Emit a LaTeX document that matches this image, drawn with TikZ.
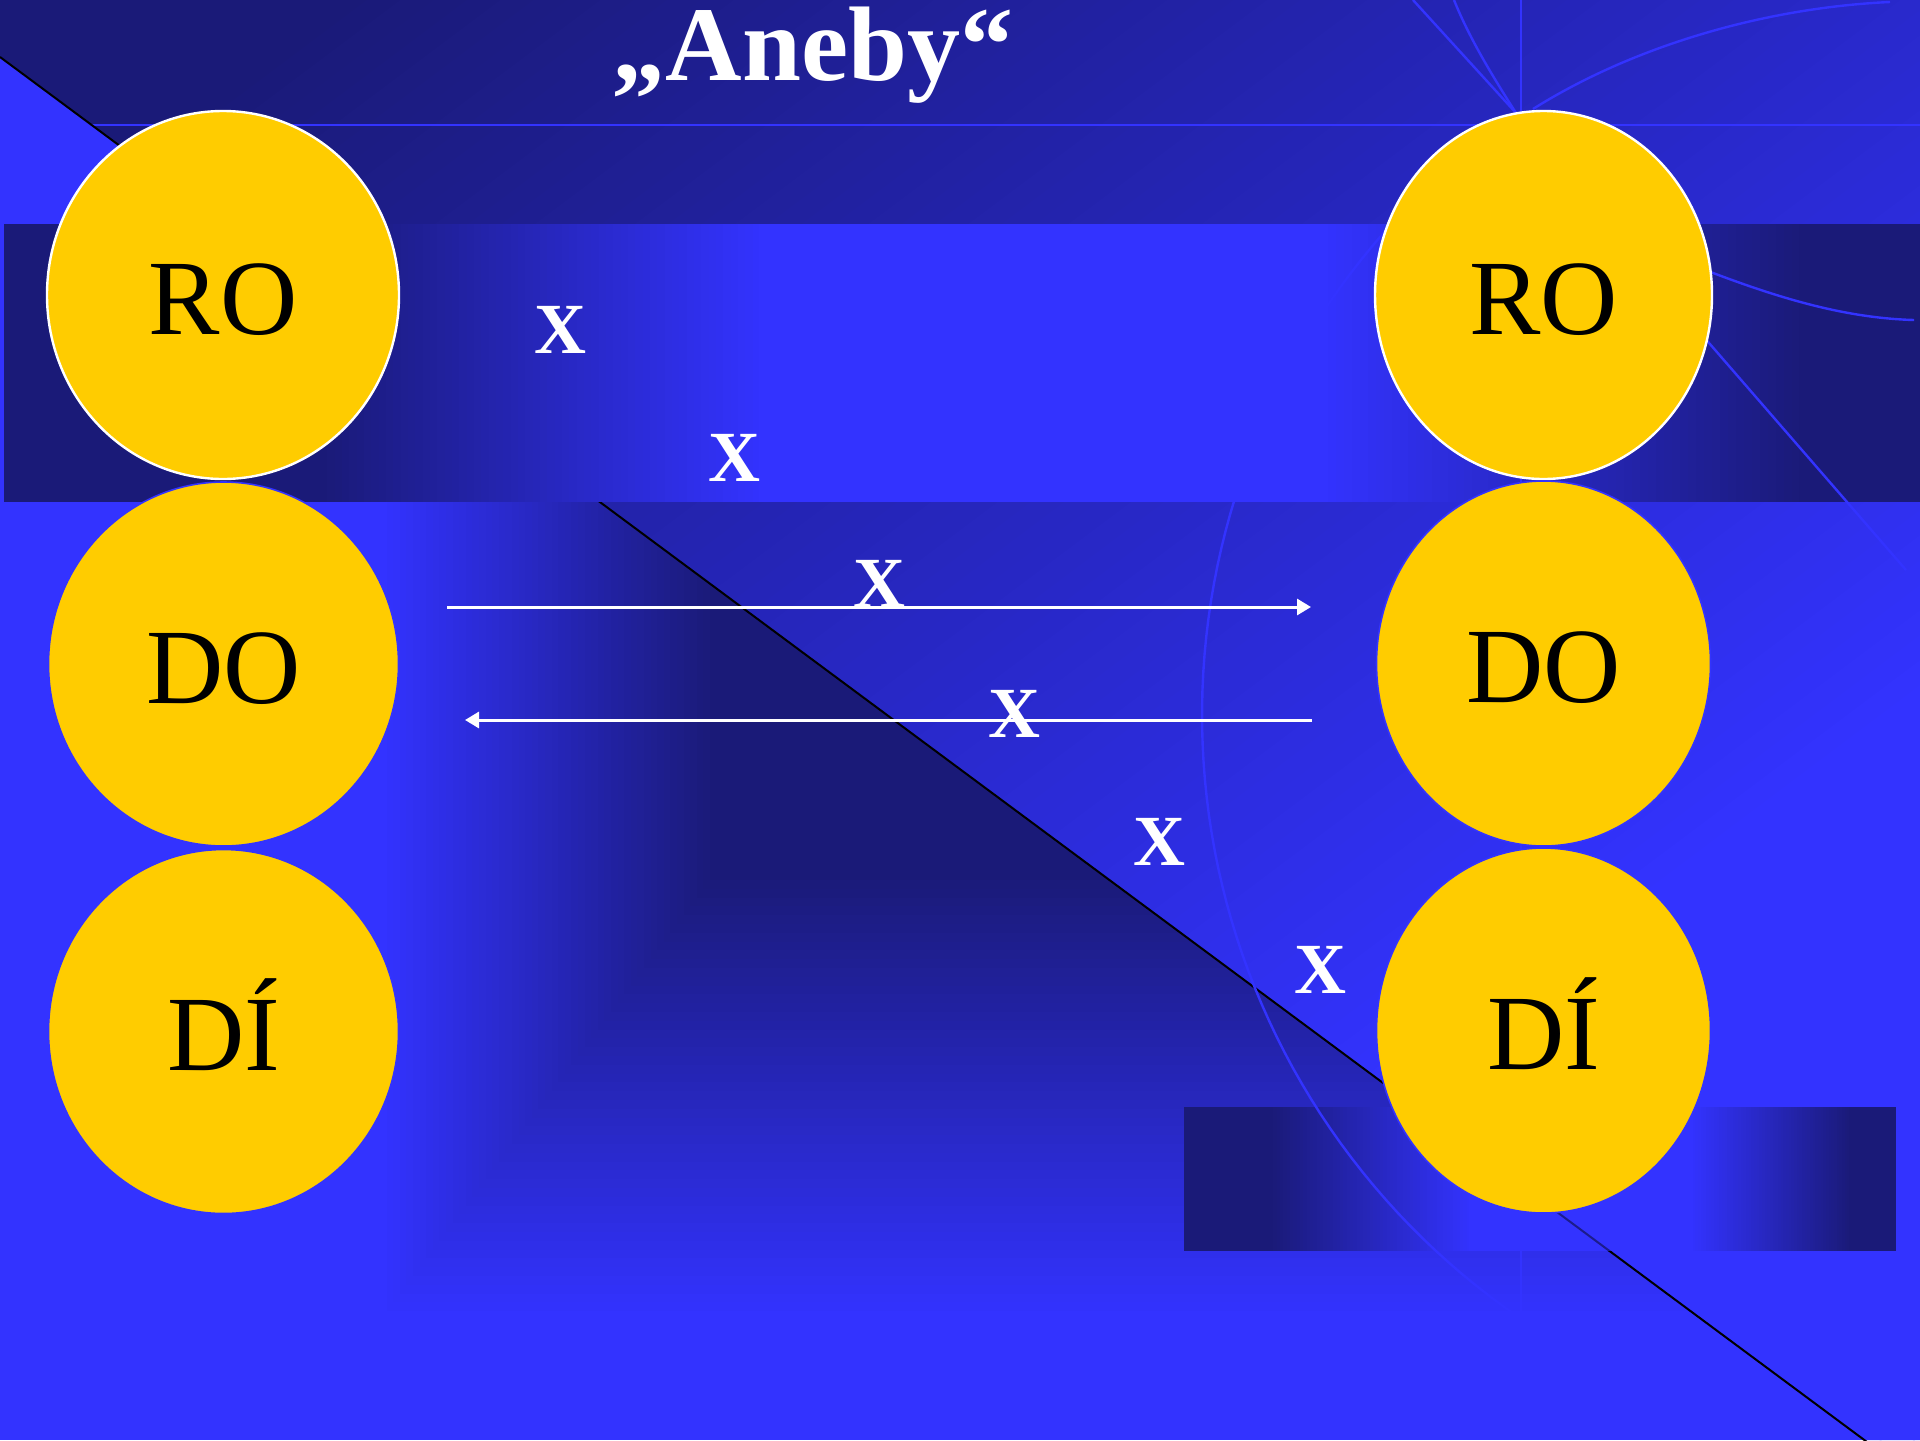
\documentclass[tikz,border=0pt]{standalone}
\usepackage{fontspec}
\setmainfont{Liberation Serif}
\usetikzlibrary{shapes.geometric,arrows.meta}
\definecolor{bgB}{RGB}{51,51,255}
\definecolor{bgM}{RGB}{40,40,200}
\definecolor{bgD}{RGB}{26,26,120}
\definecolor{yel}{RGB}{255,204,0}
\tikzset{
  bubble/.style={ellipse, fill=yel, inner sep=0pt, text=black,
    font=\fontsize{53.5}{60}\selectfont, text height=39pt, text depth=0pt},
  rimW/.style={draw=white, line width=1.2pt},
  rimB/.style={draw=bgB, line width=0.8pt},
  xlab/.style={text=white, font=\fontsize{36}{40}\selectfont\bfseries, anchor=base, inner sep=0pt},
  titletext/.style={text=white, font=\fontsize{53}{60}\selectfont\bfseries, anchor=base, inner sep=0pt},
  deco/.style={draw=bgB, line width=1.2pt},
  flow/.style={draw=white, line width=1.5pt, -{Triangle[length=7pt,width=8pt]}},
}
% horizontal gradient made of thin strips: #1 x0, #2 x1, #3 ytop, #4 ybottom, #5 colour at x0, #6 colour at x1
\newcommand{\hgrad}[6]{%
  \pgfmathsetmacro{\gstep}{(#2-#1)/60}%
  \foreach \k in {0,...,60} {
    \pgfmathsetmacro{\xa}{#1+\gstep*\k}
    \pgfmathsetmacro{\xb}{\xa+\gstep+0.8}
    \pgfmathsetmacro{\pc}{100*\k/60}
    \fill[#6!\pc!#5] (\xa,#3) rectangle (\xb,#4);
  }%
}
\begin{document}
\begin{tikzpicture}[x=0.5pt,y=-0.5pt]
\useasboundingbox (0,0) rectangle (1920,1440);
% base
\fill[bgB] (0,0) rectangle (1920,1440);
% lower-left triangle: rectangular gradient
\begin{scope}
  \clip (0,57) -- (1864,1440) -- (0,1440) -- cycle;
  \foreach \i in {0,...,50} {
    \pgfmathsetmacro{\f}{\i/50}
    \pgfmathsetmacro{\pc}{100*\f}
    \fill[bgD!\pc!bgB] ({710-330*(1-\f)},-10) rectangle (1950,{880+440*(1-\f)});
  }
\end{scope}
% upper-right region: linear gradient
\begin{scope}
  \clip (0,0) -- (1920,0) -- (1920,1440) -- (1864,1440) -- (0,57) -- cycle;
  \begin{scope}[rotate=-53.13]
    \foreach \i in {0,...,117} {
      \pgfmathsetmacro{\s}{\i*20}
      \pgfmathsetmacro{\pa}{max(0,min(100,(\s-200)/9))}
      \pgfmathsetmacro{\pb}{max(0,min(100,(\s-1100)/6))}
      \colorlet{tmpc}{bgM!\pa!bgD}
      \colorlet{tmpc}{bgB!\pb!tmpc}
      \fill[tmpc] (\s,-3000) rectangle (\s+21,3000);
    }
  \end{scope}
\end{scope}
% thin horizontal line in the top strip
\coordinate (h1) at (92,125);
\coordinate (h2) at (1920,125);
\draw[deco] (h1) -- (h2);
% diagonal line
\coordinate (d1) at (0,57);
\coordinate (d2) at (1867,1442);
\draw[black, line width=1pt] (d1) -- (d2);
% horizontal band
\fill[bgD] (4,224) rectangle (321,502);
\hgrad{320}{760}{224}{502}{bgD}{bgB}
\fill[bgB] (759,224) rectangle (1321,502);
\hgrad{1320}{1800}{224}{502}{bgB}{bgD}
\fill[bgD] (1799,224) rectangle (1920,502);
% bottom-right rectangle
\fill[bgD] (1184,1107) rectangle (1271,1251);
\hgrad{1270}{1470}{1107}{1251}{bgD}{bgB}
\fill[bgB] (1469,1107) rectangle (1691,1251);
\hgrad{1690}{1850}{1107}{1251}{bgB}{bgD}
\fill[bgD] (1849,1107) rectangle (1896,1251);
% faint part of the diagonal over the rectangle
\begin{scope}
  \clip (1184,1107) rectangle (1896,1251);
  \draw[black, line width=1pt, opacity=0.45] (d1) -- (d2);
\end{scope}
% decorative lines
\draw[deco] (1413,0) -- (1516,113);
\draw[deco] (1454,0) .. controls (1470,40) and (1495,80) .. (1516,113);
\draw[deco] (1521,0) -- (1521,1317);
\draw[deco] (1533,109) .. controls (1630,48) and (1760,8) .. (1890,2);
\draw[deco] (1700,268) .. controls (1770,295) and (1840,318) .. (1914,320);
\draw[deco] (1650,275) -- (1906,570);
\draw[deco] plot[domain=124.4:235.3, samples=80, variable=\t] ({1933+731*cos(\t)}, {715+731*sin(\t)});
% ellipses
\node[bubble, rimW, minimum width=176pt, minimum height=184pt] (ro1) at (223,295) {RO};
\node[bubble, rimB, minimum width=175pt, minimum height=182pt] (do1) at (223.5,664) {DO};
\node[bubble, rimB, minimum width=175pt, minimum height=182pt] (di1) at (223.5,1031.5) {DÍ};
\node[bubble, rimW, minimum width=168.5pt, minimum height=184pt] (ro2) at (1543.5,295) {RO};
\node[bubble, rimB, minimum width=167pt, minimum height=182.5pt] (do2) at (1543.5,663.5) {DO};
\node[bubble, rimB, minimum width=167pt, minimum height=182.5pt] (di2) at (1543.5,1030.5) {DÍ};
% arrows
\coordinate (a1s) at (447,607);
\coordinate (a1e) at (1311,607);
\coordinate (a2s) at (1312,720);
\coordinate (a2e) at (465,720);
\draw[flow] (a1s) -- (a1e);
\draw[flow] (a2s) -- (a2e);
% X labels
\node[xlab] (x1) at (560,353) {X};
\node[xlab] (x2) at (734,481) {X};
\node[xlab] (x3) at (879,607) {X};
\node[xlab] (x4) at (1014,737) {X};
\node[xlab] (x5) at (1159,865) {X};
\node[xlab] (x6) at (1320,993) {X};
% title
\node[titletext] (title) at (813,80) {„Aneby“};
\end{tikzpicture}
\end{document}
